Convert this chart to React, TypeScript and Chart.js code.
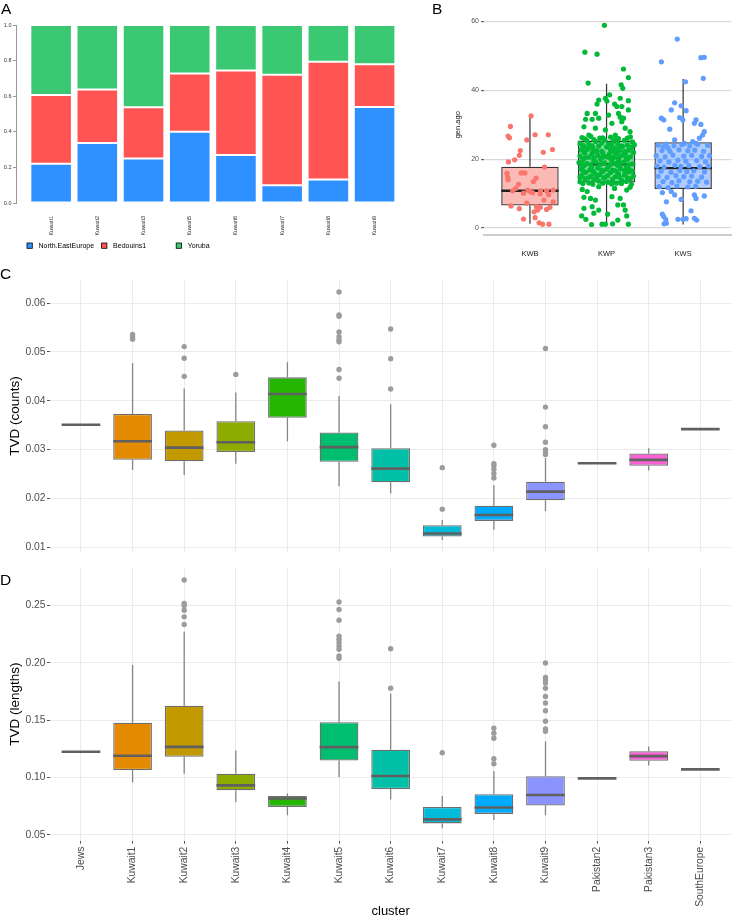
import React, { useEffect, useRef } from "react";
import { Chart, registerables } from "chart.js";
Chart.register(...registerables);

const FONT = '"Liberation Sans", Arial, Helvetica, sans-serif';

// ---------- Panel A: admixture proportions ----------
const admixClusters = ["Kuwait1", "Kuwait2", "Kuwait3", "Kuwait5", "Kuwait6", "Kuwait7", "Kuwait8", "Kuwait9"];
const northEastEurope = [0.22, 0.337, 0.25, 0.4, 0.27, 0.1, 0.132, 0.54];
const bedouins1 = [0.387, 0.301, 0.288, 0.328, 0.475, 0.62, 0.661, 0.24];
const yoruba = [0.393, 0.362, 0.462, 0.272, 0.255, 0.28, 0.207, 0.22];
const admixTicks = [0, 0.2, 0.4, 0.6, 0.8, 1.0];

// ---------- Panel B: gen.ago ----------
const genGroups = ["KWB", "KWP", "KWS"];
const genLow = [1.2, 1.0, 1.0];
const genQ1 = [6.5, 13.2, 11.3];
const genMed = [10.8, 18.5, 17.4];
const genQ3 = [17.8, 25.4, 24.9];
const genHigh = [32.6, 41.9, 43.3];
const genTicks = [0, 20, 40, 60];
const kwbPoints = [
  [1.015, 32.6], [0.745, 29.5], [0.714, 26.7], [0.732, 26.2], [1.067, 27.1], [1.239, 27.1], [0.959, 25.6],
  [0.874, 22.5], [0.861, 21.1], [1.174, 22.0], [1.294, 22.8], [0.8, 19.8], [0.719, 19.2], [1.191, 17.7],
  [0.7, 15.9], [0.71, 14.7], [0.714, 14.0], [0.886, 16.0], [0.933, 16.0], [1.08, 14.5], [1.045, 13.5],
  [0.852, 12.7], [0.813, 11.5], [0.972, 11.0], [1.003, 10.6], [1.036, 10.2], [1.139, 10.8], [1.217, 10.8],
  [1.303, 11.0], [1.132, 9.9], [1.243, 9.7], [1.303, 7.6], [0.752, 6.4], [0.861, 5.6], [0.959, 7.2],
  [1.084, 6.2], [1.11, 5.7], [1.135, 6.0], [1.217, 5.4], [1.261, 6.0], [1.054, 4.7], [1.1, 5.2],
  [1.067, 3.0], [0.916, 2.6], [1.119, 1.5], [1.165, 1.1], [1.248, 1.1], [1.183, 8.1], [0.774, 10.8], [0.916, 10.1],
];
const kwpPoints = [
  [1.972, 58.9], [1.717, 51.1], [1.876, 50.5], [2.221, 46.2], [2.285, 43.7], [1.76, 42.1], [2.191, 41.6],
  [2.212, 40.6], [2.04, 38.7], [1.985, 37.7], [2.005, 36.9], [1.898, 37.2], [2.285, 37.0], [2.178, 37.7],
  [2.105, 36.0], [2.134, 35.3], [2.199, 35.3], [1.876, 36.0], [2.285, 34.3], [1.855, 33.3], [1.726, 31.6],
  [1.812, 31.6], [1.898, 31.9], [2.178, 32.2], [2.221, 31.9], [1.747, 33.3], [2.027, 32.8], [2.156, 33.3],
  [2.07, 30.4], [2.199, 30.9], [1.705, 29.4], [1.855, 29.0], [1.985, 28.5], [2.243, 29.0], [2.307, 28.0],
  [1.769, 27.0], [2.114, 27.0],
  [1.679, 26.3], [1.795, 26.6], [1.911, 26.1], [2.053, 26.4], [2.156, 26.0], [2.311, 26.5],
  [1.743, 25.4], [1.859, 25.1], [1.975, 25.6], [2.092, 25.3], [2.234, 25.5], [2.337, 25.0],
  [1.653, 24.5], [1.769, 24.2], [1.937, 24.7], [2.027, 24.4], [2.143, 24.6], [2.272, 24.1],
  [1.705, 23.6], [1.821, 23.3], [1.898, 23.8], [2.001, 23.5], [2.118, 23.2], [2.208, 23.7], [2.324, 23.4],
  [1.666, 22.7], [1.756, 22.9], [1.872, 22.4], [2.053, 22.8], [2.169, 22.5], [2.285, 22.6],
  [1.717, 21.8], [1.808, 21.5], [1.95, 21.9], [2.04, 21.6], [2.13, 21.7], [2.246, 21.4], [2.35, 21.9],
  [1.653, 20.9], [1.769, 20.6], [1.885, 21.1], [1.988, 20.8], [2.092, 20.5], [2.195, 21.0], [2.311, 20.7],
  [1.692, 19.9], [1.834, 19.6], [1.924, 20.1], [2.066, 19.8], [2.156, 19.5], [2.272, 20.0],
  [1.64, 19.0], [1.743, 18.7], [1.859, 19.2], [1.975, 18.9], [2.105, 18.8], [2.221, 19.1], [2.337, 18.6],
  [1.705, 18.1], [1.808, 17.8], [1.911, 18.3], [2.027, 17.9], [2.143, 18.2], [2.259, 17.7],
  [1.666, 17.2], [1.782, 16.9], [1.885, 17.4], [2.001, 17.1], [2.079, 16.8], [2.182, 17.3], [2.298, 17.0],
  [1.73, 16.2], [1.846, 15.9], [1.95, 16.4], [2.053, 16.1], [2.156, 15.8], [2.285, 16.3],
  [1.679, 15.3], [1.795, 15.0], [1.911, 15.5], [2.014, 15.2], [2.118, 14.9], [2.234, 15.4], [2.35, 15.1],
  [1.717, 14.3], [1.834, 14.0], [1.963, 14.5], [2.079, 14.2], [2.195, 13.9], [2.311, 14.4],
  [1.653, 13.4], [1.769, 13.1], [1.898, 13.6], [2.014, 13.3], [2.13, 13.0], [2.259, 13.5],
  [1.717, 25.9], [1.834, 25.7], [1.95, 26.2], [2.118, 25.8], [2.272, 26.1],
  [1.692, 24.0], [1.808, 23.9], [2.066, 24.1], [2.182, 23.8], [2.363, 24.2],
  [1.705, 22.2], [1.821, 22.0], [1.937, 22.3], [2.105, 22.1], [2.234, 22.2], [2.35, 22.0],
  [1.717, 20.4], [1.834, 20.2], [1.937, 20.5], [2.04, 20.3], [2.156, 20.4], [2.259, 20.2],
  [1.679, 18.6], [1.795, 18.4], [1.924, 18.7], [2.053, 18.5], [2.169, 18.6], [2.285, 18.4],
  [1.692, 16.7], [1.821, 16.5], [1.937, 16.8], [2.118, 16.6], [2.234, 16.7], [2.337, 16.5],
  [1.653, 14.8], [1.756, 14.6], [1.872, 14.9], [1.975, 14.7], [2.169, 14.8], [2.272, 14.6],
  [1.692, 12.9], [1.821, 12.7], [1.95, 13.0], [2.066, 12.8], [2.195, 12.9], [2.324, 12.7],
  [1.705, 5.7], [1.812, 6.2], [1.675, 3.5], [1.834, 4.3], [1.941, 1.1], [1.985, 1.1], [2.285, 1.1],
  [2.147, 2.3], [2.243, 5.2], [2.263, 3.5], [2.147, 6.7], [1.898, 5.2], [1.791, 8.6], [1.705, 8.9],
  [2.221, 6.7], [2.07, 9.1], [2.178, 8.6], [2.263, 11.0], [2.307, 11.8], [1.683, 11.2], [1.747, 10.6],
  [1.898, 12.0], [1.855, 8.1], [1.804, 1.0], [2.079, 1.2], [1.73, 2.5], [2.014, 4.0], [2.105, 11.5],
];
const kwsPoints = [
  [2.923, 54.9], [2.716, 48.3], [3.232, 49.5], [3.276, 49.6], [3.031, 42.5], [3.263, 43.5], [2.889, 36.4],
  [2.845, 34.3], [2.974, 35.5], [3.039, 34.1], [2.716, 31.9], [2.747, 31.4], [2.954, 32.1], [2.996, 31.4],
  [3.168, 31.4], [3.232, 30.1], [2.825, 28.7], [3.147, 30.4], [3.276, 28.0], [3.254, 27.0], [3.212, 26.1],
  [3.125, 25.1], [3.168, 24.6], [2.889, 25.6], [3.018, 24.6], [2.738, 23.6], [2.803, 23.2],
  [2.674, 24.1], [2.777, 24.4], [2.88, 23.9], [2.983, 24.2], [3.086, 23.8], [3.19, 24.3], [3.319, 24.0],
  [2.725, 22.5], [2.828, 22.2], [2.945, 22.7], [3.061, 22.4], [3.151, 22.6], [3.267, 22.3],
  [2.648, 21.0], [2.764, 20.7], [2.867, 21.2], [3.009, 20.9], [3.112, 21.1], [3.241, 20.8], [3.345, 21.0],
  [2.699, 19.5], [2.815, 19.2], [2.932, 19.7], [3.035, 19.4], [3.177, 19.6], [3.293, 19.3],
  [2.661, 18.0], [2.751, 17.7], [2.893, 18.2], [2.97, 17.9], [3.074, 18.1], [3.215, 17.8], [3.332, 18.0],
  [2.712, 16.5], [2.841, 16.2], [2.957, 16.7], [3.048, 16.4], [3.138, 16.6], [3.28, 16.3],
  [2.674, 15.0], [2.79, 14.7], [2.906, 15.2], [3.009, 14.9], [3.112, 15.1], [3.241, 14.8],
  [2.738, 13.5], [2.854, 13.2], [2.945, 13.7], [3.086, 13.4], [3.19, 13.6], [3.306, 13.3],
  [2.686, 12.0], [2.803, 11.7], [2.919, 12.2], [3.061, 11.9], [3.164, 12.1],
  [2.729, 10.3], [2.781, 7.6], [2.845, 10.6], [2.889, 9.6], [2.974, 8.3], [3.147, 9.6], [3.168, 8.6],
  [3.276, 9.3], [3.103, 5.0], [2.729, 4.0], [2.747, 3.3], [2.773, 2.5], [2.751, 1.2], [2.932, 2.5],
  [2.996, 2.5], [3.039, 2.7], [3.147, 2.8], [3.177, 2.3], [2.781, 1.4],
];

// ---------- Panels C & D: TVD per cluster ----------
const clusters = ["Jews", "Kuwait1", "Kuwait2", "Kuwait3", "Kuwait4", "Kuwait5", "Kuwait6", "Kuwait7", "Kuwait8", "Kuwait9", "Pakistan2", "Pakistan3", "SouthEurope"];
const clusterColors = [null, "#E38A00", "#C29A00", "#8EAB00", "#25B600", "#00BE70", "#00C1A8", "#00BBDA", "#00ABFD", "#8B93FF", null, "#FB61D7", null];

const countsLow = [null, 0.0258, 0.0248, 0.0271, 0.0317, 0.0225, 0.021, 0.0115, 0.0136, 0.0174, null, 0.0257, null];
const countsQ1 = [null, 0.0279, 0.0276, 0.0295, 0.0365, 0.0275, 0.0233, 0.0122, 0.0154, 0.0196, null, 0.0267, null];
const countsMed = [0.0351, 0.0317, 0.0304, 0.0315, 0.0414, 0.0305, 0.0261, 0.0128, 0.0166, 0.0214, 0.0272, 0.0279, 0.0342];
const countsQ3 = [null, 0.0373, 0.0339, 0.0358, 0.0448, 0.0335, 0.0303, 0.0145, 0.0185, 0.0234, null, 0.0292, null];
const countsHigh = [null, 0.0477, 0.0425, 0.0417, 0.0479, 0.041, 0.0393, 0.0156, 0.0227, 0.0283, null, 0.0303, null];
const countsOutliers = [
  [], [0.0536, 0.0531, 0.0526], [0.0511, 0.0487, 0.045], [0.0454], [],
  [0.0623, 0.0576, 0.0573, 0.0541, 0.0531, 0.0525, 0.0521, 0.0464, 0.0446],
  [0.0547, 0.0486, 0.0424], [0.0263, 0.0178],
  [0.0309, 0.0271, 0.0267, 0.026, 0.0251, 0.0242],
  [0.0507, 0.0387, 0.0347, 0.0315, 0.03, 0.0295, 0.029],
  [], [], [],
];
const countsTicks = [0.01, 0.02, 0.03, 0.04, 0.05, 0.06];

const lengthsLow = [null, 0.0955, 0.1033, 0.0786, 0.0671, 0.1003, 0.0807, 0.0556, 0.0628, 0.0671, null, 0.1105, null];
const lengthsQ1 = [null, 0.1064, 0.118, 0.0888, 0.0743, 0.1148, 0.0899, 0.0599, 0.0682, 0.0755, null, 0.1146, null];
const lengthsMed = [0.1224, 0.1189, 0.1267, 0.0931, 0.0816, 0.1264, 0.1012, 0.0634, 0.0738, 0.0847, 0.0992, 0.1186, 0.107];
const lengthsQ3 = [null, 0.1478, 0.1626, 0.1033, 0.0839, 0.1481, 0.1241, 0.0743, 0.0853, 0.101, null, 0.1229, null];
const lengthsHigh = [null, 0.1982, 0.2271, 0.1235, 0.086, 0.1837, 0.1733, 0.0839, 0.1053, 0.1313, null, 0.127, null];
const lengthsOutliers = [
  [], [], [0.2722, 0.2517, 0.25, 0.2459, 0.2401, 0.2335], [], [],
  [0.2531, 0.2465, 0.2372, 0.2233, 0.2205, 0.2175, 0.2147, 0.2118, 0.206, 0.204],
  [0.2123, 0.1779], [0.1215],
  [0.1429, 0.1385, 0.1342, 0.1163, 0.112],
  [0.1999, 0.1872, 0.1849, 0.1823, 0.1779, 0.1707, 0.1649, 0.1582, 0.149, 0.1424, 0.1403],
  [], [], [],
];
const lengthsTicks = [0.05, 0.1, 0.15, 0.2, 0.25];

// ---------- helpers ----------
function boxPlugin(id: string, xs: number[], low: any[], med: any[], q3: any[], q1: any[], high: any[], st: any) {
  return {
    id,
    beforeDatasetsDraw(chart: any) {
      const { ctx } = chart;
      const x = chart.scales.x, y = chart.scales.y;
      ctx.save();
      ctx.strokeStyle = st.whiskerColor;
      ctx.lineWidth = st.whiskerWidth;
      xs.forEach((xv, i) => {
        if (low[i] == null) return;
        const px = x.getPixelForValue(xv);
        ctx.beginPath();
        ctx.moveTo(px, y.getPixelForValue(low[i]));
        ctx.lineTo(px, y.getPixelForValue(q1[i]));
        ctx.moveTo(px, y.getPixelForValue(q3[i]));
        ctx.lineTo(px, y.getPixelForValue(high[i]));
        ctx.stroke();
      });
      ctx.restore();
    },
    afterDatasetDraw(chart: any, args: any) {
      if (args.index !== 0) return;
      const { ctx } = chart;
      const x = chart.scales.x, y = chart.scales.y;
      const half = (Math.abs(x.getPixelForValue(1) - x.getPixelForValue(0)) * st.boxWidth) / 2;
      ctx.save();
      ctx.strokeStyle = st.medianColor;
      ctx.lineWidth = st.medianWidth;
      xs.forEach((xv, i) => {
        if (med[i] == null) return;
        const px = x.getPixelForValue(xv);
        const py = y.getPixelForValue(med[i]);
        ctx.beginPath();
        ctx.moveTo(px - half, py);
        ctx.lineTo(px + half, py);
        ctx.stroke();
      });
      ctx.restore();
    },
  };
}

function ChartCanvas({ left, top, width, height, make }: any) {
  const ref = useRef<HTMLCanvasElement>(null);
  useEffect(() => {
    const chart = new Chart(ref.current as HTMLCanvasElement, make());
    return () => chart.destroy();
  }, []);
  return (
    <div style={{ position: "absolute", left, top, width, height }}>
      <canvas ref={ref} width={width} height={height} style={{ width, height, display: "block" }} />
    </div>
  );
}

// ---------- Panel A config ----------
const A_COLORS = ["#2F90FF", "#FF5454", "#3BC872"];
function makeA(): any {
  const legendPlugin = {
    id: "legendA",
    afterDraw(chart: any) {
      const ctx = chart.ctx;
      ctx.save();
      chart.data.datasets.forEach((ds: any, i: number) => {
        const x = 27 + i * 74.6;
        const y = 243;
        ctx.fillStyle = ds.backgroundColor;
        ctx.fillRect(x, y, 5.3, 5.3);
        ctx.strokeStyle = "#000";
        ctx.lineWidth = 0.8;
        ctx.strokeRect(x, y, 5.3, 5.3);
        ctx.fillStyle = "#000";
        ctx.font = `7px ${FONT}`;
        ctx.textBaseline = "middle";
        ctx.fillText(ds.label, x + 11.5, y + 3);
      });
      ctx.restore();
    },
  };
  const mk = (label: string, vals: number[], color: string) => ({
    label,
    data: vals.map((v, i) => ({ x: i, y: v })),
    backgroundColor: color,
    borderColor: "rgba(255,255,255,0.85)",
    borderWidth: 1,
    borderSkipped: false,
    categoryPercentage: 1,
    barPercentage: 0.9,
  });
  return {
    type: "bar",
    data: {
      datasets: [
        mk("North.EastEurope", northEastEurope, A_COLORS[0]),
        mk("Bedouins1", bedouins1, A_COLORS[1]),
        mk("Yoruba", yoruba, A_COLORS[2]),
      ],
    },
    options: {
      animation: false,
      responsive: false,
      devicePixelRatio: 1,
      layout: { padding: { top: 25, left: 0, right: 0, bottom: 0 } },
      plugins: { legend: { display: false }, tooltip: { enabled: false } },
      scales: {
        x: {
          type: "linear",
          stacked: true,
          min: -0.76,
          max: 7.55,
          offset: false,
          grid: { display: false, offset: false },
          border: { display: false },
          afterBuildTicks: (ax: any) => {
            ax.ticks = admixClusters.map((_, i) => ({ value: i }));
          },
          afterFit: (ax: any) => {
            ax.height = 57;
          },
          ticks: {
            callback: (v: any) => admixClusters[v] ?? "",
            autoSkip: false,
            minRotation: 90,
            maxRotation: 90,
            font: { size: 5.5, family: FONT },
            color: "#333",
            padding: 5,
          },
        },
        y: {
          stacked: true,
          min: 0,
          max: 1,
          afterBuildTicks: (ax: any) => {
            ax.ticks = admixTicks.map((v) => ({ value: v }));
          },
          afterFit: (ax: any) => {
            ax.width = 16;
          },
          grid: { drawOnChartArea: false, drawTicks: true, tickLength: 3, color: "#999" },
          border: { display: true, color: "#999", width: 1 },
          ticks: {
            callback: (v: any) => Number(v).toFixed(1),
            font: { size: 5.5, family: FONT },
            color: "#333",
            padding: 1.5,
          },
        },
      },
    },
    plugins: [legendPlugin],
  };
}

// ---------- Panel B config ----------
const B_POINT = ["#F8766D", "#00BA38", "#619CFF"];
const B_FILL = ["rgba(248,118,109,0.5)", "rgba(0,186,56,0.5)", "rgba(97,156,255,0.5)"];
function makeB(): any {
  const pts = (arr: number[][], color: string) => ({
    type: "line",
    showLine: false,
    data: arr.map(([x, y]) => ({ x, y })),
    pointRadius: 2.6,
    pointBackgroundColor: color,
    pointBorderWidth: 0,
    pointHoverRadius: 2.6,
    order: 1,
  });
  return {
    type: "bar",
    data: {
      datasets: [
        {
          data: genGroups.map((_, i) => ({ x: i + 1, y: [genQ1[i], genQ3[i]] })),
          backgroundColor: (c: any) => B_FILL[c.dataIndex],
          borderColor: "#333",
          borderWidth: 1.3,
          borderSkipped: false,
          categoryPercentage: 1,
          barPercentage: 0.75,
          order: 5,
        },
        pts(kwbPoints, B_POINT[0]),
        pts(kwpPoints, B_POINT[1]),
        pts(kwsPoints, B_POINT[2]),
      ],
    },
    options: {
      animation: false,
      responsive: false,
      devicePixelRatio: 1,
      layout: { padding: { top: 15, left: 0, right: 0, bottom: 0 } },
      plugins: { legend: { display: false }, tooltip: { enabled: false } },
      scales: {
        x: {
          type: "linear",
          min: 0.4,
          max: 3.63,
          offset: false,
          grid: { display: false, offset: false },
          border: { display: true, color: "#cdcdcd", width: 2 },
          afterBuildTicks: (ax: any) => {
            ax.ticks = genGroups.map((_, i) => ({ value: i + 1 }));
          },
          afterFit: (ax: any) => {
            ax.height = 25.5;
          },
          ticks: {
            callback: (v: any) => genGroups[v - 1] ?? "",
            maxRotation: 0,
            font: { size: 7.5, family: FONT },
            color: "#222",
            padding: 7,
          },
        },
        y: {
          min: -1.9,
          max: 61.9,
          afterBuildTicks: (ax: any) => {
            ax.ticks = genTicks.map((v) => ({ value: v }));
          },
          afterFit: (ax: any) => {
            ax.width = 44;
          },
          grid: { color: "#d9d9d9", lineWidth: 1.2, drawTicks: true, tickLength: 3, tickColor: "#666" },
          border: { display: false },
          ticks: { font: { size: 7, family: FONT }, color: "#4d4d4d", padding: 2 },
          title: {
            display: true,
            text: "gen.ago",
            font: { size: 7.5, family: FONT },
            color: "#111",
            padding: { top: 13.5, bottom: 0 },
          },
        },
      },
    },
    plugins: [
      boxPlugin("boxB", [1, 2, 3], genLow, genMed, genQ3, genQ1, genHigh, {
        whiskerColor: "#333",
        whiskerWidth: 1.2,
        medianColor: "#222",
        medianWidth: 2.4,
        boxWidth: 0.75,
      }),
    ],
  };
}

// ---------- Panels C / D config ----------
function makeTVD(opts: any): any {
  const { low, q1, med, q3, high, outliers, ticks, min, max, title, showX, padTop, xHeight } = opts;
  const xs = clusters.map((_, i) => i);
  return {
    type: "bar",
    data: {
      datasets: [
        {
          data: clusters
            .map((_, i) => (q1[i] == null ? null : { x: i, y: [q1[i], q3[i]] }))
            .filter((d: any) => d !== null),
          backgroundColor: (c: any) => (c.raw ? clusterColors[c.raw.x] : "#ccc"),
          borderColor: "#6e6e6e",
          borderWidth: 1.3,
          borderSkipped: false,
          categoryPercentage: 1,
          barPercentage: 0.75,
          order: 5,
        },
        {
          type: "line",
          showLine: false,
          data: outliers.flatMap((arr: number[], i: number) => arr.map((v) => ({ x: i, y: v }))),
          pointRadius: 2.7,
          pointBackgroundColor: "#9c9c9c",
          pointBorderWidth: 0,
          pointHoverRadius: 2.7,
          order: 1,
        },
      ],
    },
    options: {
      animation: false,
      responsive: false,
      devicePixelRatio: 1,
      layout: { padding: { top: padTop, left: 0, right: 0, bottom: 0 } },
      plugins: { legend: { display: false }, tooltip: { enabled: false } },
      scales: {
        x: {
          type: "linear",
          min: -0.6,
          max: 12.6,
          offset: false,
          grid: {
            color: "#ebebeb",
            lineWidth: 1,
            offset: false,
            drawTicks: showX,
            tickLength: 3,
            tickColor: "#555",
          },
          border: { display: false },
          afterBuildTicks: (ax: any) => {
            ax.ticks = clusters.map((_, i) => ({ value: i }));
          },
          afterFit: (ax: any) => {
            ax.height = xHeight;
          },
          ticks: {
            display: showX,
            callback: (v: any) => clusters[v] ?? "",
            autoSkip: false,
            minRotation: 90,
            maxRotation: 90,
            font: { size: 10.3, family: FONT },
            color: "#4d4d4d",
            padding: 3,
          },
          title: {
            display: showX,
            text: "cluster",
            font: { size: 13, family: FONT },
            color: "#000",
            padding: { top: 0, bottom: 0 },
          },
        },
        y: {
          min,
          max,
          afterBuildTicks: (ax: any) => {
            ax.ticks = ticks.map((v: number) => ({ value: v }));
          },
          afterFit: (ax: any) => {
            ax.width = 50;
          },
          grid: { color: "#ebebeb", lineWidth: 1, drawTicks: true, tickLength: 3, tickColor: "#555" },
          border: { display: false },
          ticks: {
            callback: (v: any) => Number(v).toFixed(2),
            font: { size: 10.3, family: FONT },
            color: "#4d4d4d",
            padding: 1.5,
          },
          title: {
            display: true,
            text: title,
            font: { size: 13.5, family: FONT },
            color: "#000",
            padding: { top: 7.4, bottom: 0 },
          },
        },
      },
    },
    plugins: [
      boxPlugin("box" + title, xs, low, med, q3, q1, high, {
        whiskerColor: "#858585",
        whiskerWidth: 1.3,
        medianColor: "#606060",
        medianWidth: 2.6,
        boxWidth: 0.75,
      }),
    ],
  };
}

const makeC = () =>
  makeTVD({
    low: countsLow, q1: countsQ1, med: countsMed, q3: countsQ3, high: countsHigh, outliers: countsOutliers,
    ticks: countsTicks, min: 0.00896, max: 0.06484, title: "TVD (counts)", showX: false, padTop: 17.5, xHeight: 5.6,
  });
const makeD = () =>
  makeTVD({
    low: lengthsLow, q1: lengthsQ1, med: lengthsMed, q3: lengthsQ3, high: lengthsHigh, outliers: lengthsOutliers,
    ticks: lengthsTicks, min: 0.0448, max: 0.283, title: "TVD (lengths)", showX: true, padTop: 6.3, xHeight: 78.3,
  });

const letter = (t: string, left: number, top: number) => (
  <div style={{ position: "absolute", left, top, fontFamily: FONT, fontSize: 15.5, lineHeight: "16px", color: "#000" }}>{t}</div>
);

export default function App() {
  return (
    <div style={{ position: "absolute", left: 0, top: 0, width: 734, height: 919, overflow: "hidden", background: "#fff" }}>
      <ChartCanvas left={0} top={0} width={400} height={260} make={makeA} />
      <ChartCanvas left={440} top={0} width={294} height={260} make={makeB} />
      <ChartCanvas left={0} top={262} width={734} height={298} make={makeC} />
      <ChartCanvas left={0} top={560} width={734} height={359} make={makeD} />
      {letter("A", 1, 1)}
      {letter("B", 432, 1)}
      {letter("C", 0, 266)}
      {letter("D", 0, 572)}
    </div>
  );
}
